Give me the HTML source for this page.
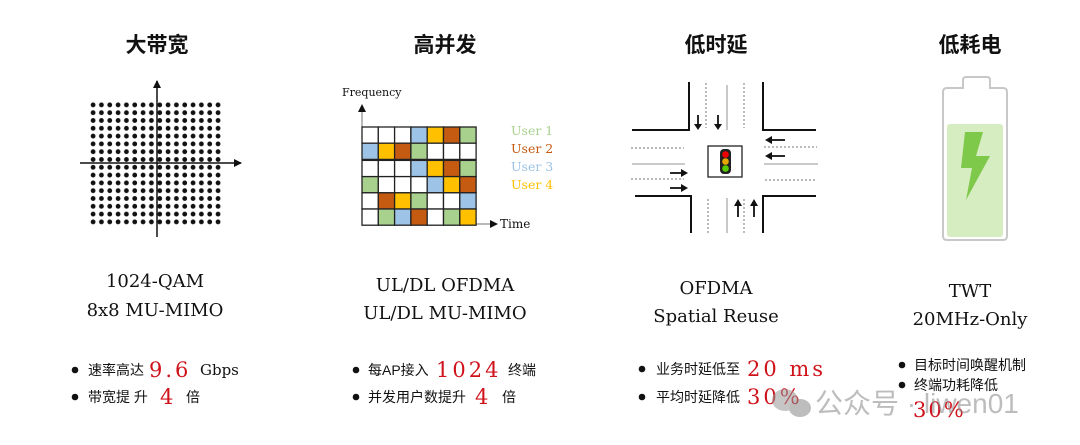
<!DOCTYPE html>
<html><head><meta charset="utf-8"><style>
html,body{margin:0;padding:0;background:#fff;width:1080px;height:445px;overflow:hidden}
svg{display:block}
.t{font-family:"Liberation Sans","Noto Sans CJK SC",sans-serif;font-weight:bold;font-size:21px;fill:#111}
.s{font-family:"DejaVu Serif","Liberation Serif",serif;font-size:18px;fill:#111}
.c{font-family:"Liberation Sans","Noto Sans CJK SC",sans-serif;font-size:14px;fill:#111}
.r{font-family:"DejaVu Serif","Liberation Serif",serif;font-size:21px;fill:#d0121b;letter-spacing:3px}
.g{font-family:"DejaVu Serif","Liberation Serif",serif;font-size:15px;fill:#111}
</style></head><body>
<svg width="1080" height="445" viewBox="0 0 1080 445" xmlns="http://www.w3.org/2000/svg">
<defs>
<marker id="ah" markerWidth="8" markerHeight="8" refX="7" refY="4" orient="auto" markerUnits="userSpaceOnUse"><path d="M0,0L8,4L0,8z" fill="#111"/></marker>
<pattern id="dots" x="89" y="101" width="8.33" height="7.8" patternUnits="userSpaceOnUse"><circle cx="4.1" cy="3.9" r="2.4" fill="#111"/></pattern>
</defs>
<text class="t" x="157" y="52" text-anchor="middle">大带宽</text>
<text class="t" x="445" y="52" text-anchor="middle">高并发</text>
<text class="t" x="716" y="52" text-anchor="middle">低时延</text>
<text class="t" x="970" y="52" text-anchor="middle">低耗电</text>

<rect x="89" y="101" width="133.3" height="124.8" fill="url(#dots)"/>
<line x1="80" y1="163" x2="241" y2="163" stroke="#111" stroke-width="1.5" marker-end="url(#ah)"/>
<line x1="157" y1="237" x2="157" y2="81" stroke="#111" stroke-width="1.5" marker-end="url(#ah)"/>

<text x="342" y="96" font-family="DejaVu Serif,serif" font-size="11" fill="#111">Frequency</text>
<line x1="362" y1="127" x2="362" y2="107" stroke="#888" stroke-width="1.2"/>
<path d="M358,112L362,104L366,112z" fill="#111"/>
<line x1="476" y1="224" x2="492" y2="224" stroke="#888" stroke-width="1.2"/>
<path d="M490,220L498,224L490,228z" fill="#111"/>
<text x="500" y="228" font-family="DejaVu Serif,serif" font-size="12" fill="#111">Time</text>
<g stroke="#222" stroke-width="1.3" id="grid"></g>
<g font-family="DejaVu Serif,serif" font-size="12.5">
<text x="511" y="135" fill="#a9d18e">User 1</text>
<text x="511" y="153" fill="#c55a11">User 2</text>
<text x="511" y="171" fill="#9dc3e6">User 3</text>
<text x="511" y="189" fill="#ffc000">User 4</text>
</g>

<g stroke="#111" stroke-width="2" fill="none">
<path d="M689,82V130H632"/><path d="M763,82V130H816"/>
<path d="M635,196H691V233"/><path d="M763,233V196H816"/>
</g>
<g stroke="#777" stroke-width="1" stroke-dasharray="2,2" fill="none">
<line x1="706" y1="83" x2="706" y2="128"/><line x1="744" y1="83" x2="744" y2="128"/>
<line x1="631" y1="148" x2="684" y2="148"/><line x1="631" y1="179" x2="684" y2="179"/>
<line x1="764" y1="147" x2="817" y2="147"/><line x1="765" y1="180" x2="816" y2="180"/>
<line x1="708" y1="199" x2="708" y2="233"/><line x1="744" y1="199" x2="744" y2="233"/>
</g>
<g stroke="#aaa" stroke-width="1.3">
<line x1="727" y1="85" x2="727" y2="130"/><line x1="632" y1="164" x2="685" y2="164"/>
<line x1="764" y1="164" x2="818" y2="164"/><line x1="727" y1="198" x2="727" y2="233"/>
</g>
<g stroke="#111" stroke-width="1.8">
<line x1="698" y1="115" x2="698" y2="126"/><line x1="718" y1="115" x2="718" y2="126"/>
<line x1="785" y1="140" x2="770" y2="140"/><line x1="785" y1="156" x2="770" y2="156"/>
<line x1="670" y1="173" x2="683" y2="173"/><line x1="670" y1="188" x2="683" y2="188"/>
<line x1="738" y1="217" x2="738" y2="204"/><line x1="754" y1="217" x2="754" y2="204"/>
</g>
<g fill="#111">
<path d="M694,124L698,130L702,124z"/><path d="M714,124L718,130L722,124z"/>
<path d="M772,136L765,140L772,144z"/><path d="M772,152L765,156L772,160z"/>
<path d="M681,169L688,173L681,177z"/><path d="M681,184L688,188L681,192z"/>
<path d="M734,206L738,199L742,206z"/><path d="M750,206L754,199L758,206z"/>
</g>
<rect x="708" y="146" width="34" height="31" fill="#fff" stroke="#222" stroke-width="1.3"/>
<rect x="720" y="149" width="11" height="25" rx="4" fill="#222"/>
<circle cx="725.5" cy="154.5" r="3.3" fill="#e00"/>
<circle cx="725.5" cy="161.5" r="3.3" fill="#e6a800"/>
<circle cx="725.5" cy="168.5" r="3.3" fill="#5c0"/>

<path d="M963,88V80Q963,77 966,77H987Q990,77 990,80V88H1003Q1007,88 1007,92V236Q1007,240 1003,240H947Q943,240 943,236V92Q943,88 947,88Z" fill="#fff" stroke="#c8c8c8" stroke-width="2"/>
<rect x="947" y="124" width="56" height="113" rx="3" fill="#d6ecc1"/>
<path d="M965,132H983L976,156H990L966,200L972,168H961Z" fill="#7ec84a"/>

<text class="s" x="155" y="287" text-anchor="middle">1024-QAM</text>
<text class="s" x="155" y="316" text-anchor="middle">8x8 MU-MIMO</text>
<text class="s" x="445" y="291" text-anchor="middle">UL/DL OFDMA</text>
<text class="s" x="445" y="319" text-anchor="middle">UL/DL MU-MIMO</text>
<text class="s" x="716" y="294" text-anchor="middle">OFDMA</text>
<text class="s" x="716" y="322" text-anchor="middle">Spatial Reuse</text>
<text class="s" x="970" y="297" text-anchor="middle">TWT</text>
<text class="s" x="970" y="325" text-anchor="middle">20MHz-Only</text>

<g fill="#111">
<circle cx="75" cy="370" r="3.3"/><circle cx="75" cy="397" r="3.3"/>
<circle cx="356" cy="370" r="3.3"/><circle cx="356" cy="397" r="3.3"/>
<circle cx="642" cy="369" r="3.3"/><circle cx="642" cy="397" r="3.3"/>
<circle cx="902" cy="365" r="3.3"/><circle cx="902" cy="385" r="3.3"/>
</g>
<text class="c" x="88" y="375">速率高达</text>
<text class="r" x="149" y="377">9.6</text>
<text class="g" x="200" y="375">Gbps</text>
<text class="c" x="88" y="402">带宽提 升</text>
<text class="r" x="160" y="404">4</text>
<text class="c" x="186" y="402">倍</text>

<text class="c" x="368" y="375">每AP接入</text>
<text class="r" x="436" y="377">1024</text>
<text class="c" x="508" y="375">终端</text>
<text class="c" x="368" y="402">并发用户数提升</text>
<text class="r" x="475" y="404">4</text>
<text class="c" x="502" y="402">倍</text>

<text class="c" x="656" y="374">业务时延低至</text>
<text class="r" x="747" y="376">20 ms</text>
<text class="c" x="656" y="402">平均时延降低</text>
<text class="r" x="747" y="404">30%</text>

<text class="c" x="914" y="370">目标时间唤醒机制</text>
<text class="c" x="914" y="390">终端功耗降低</text>
<text class="r" x="913" y="417" style="letter-spacing:2px">30%</text>

<g opacity="0.55">
<ellipse cx="785" cy="400" rx="13" ry="11" fill="#999"/>
<ellipse cx="800" cy="408" rx="11" ry="9" fill="#888"/>
<text x="815" y="413" font-family="Liberation Sans,Noto Sans CJK SC,sans-serif" font-size="28" fill="#888">公众号 · liwen01</text>
</g>
</svg>
<script>
(function(){
var C={W:"#fff",B:"#9dc3e6",Y:"#ffc000",O:"#c55a11",G:"#a9d18e"};
var rows=["WWWBYOG","BYOGWWW","WWWBYOG","GWWWBYO","WOYGWWB","WGBOWGY"];
var g=document.getElementById("grid"),ns="http://www.w3.org/2000/svg";
var x0=362,y0=127,w=16.3,h=16.2;
rows.forEach(function(r,i){for(var j=0;j<7;j++){var e=document.createElementNS(ns,"rect");
e.setAttribute("x",x0+j*w);e.setAttribute("y",y0+i*h+(i>=2?1:0));e.setAttribute("width",w);e.setAttribute("height",h);
e.setAttribute("fill",C[r[j]]);g.appendChild(e);}});
})();
</script>
</body></html>
